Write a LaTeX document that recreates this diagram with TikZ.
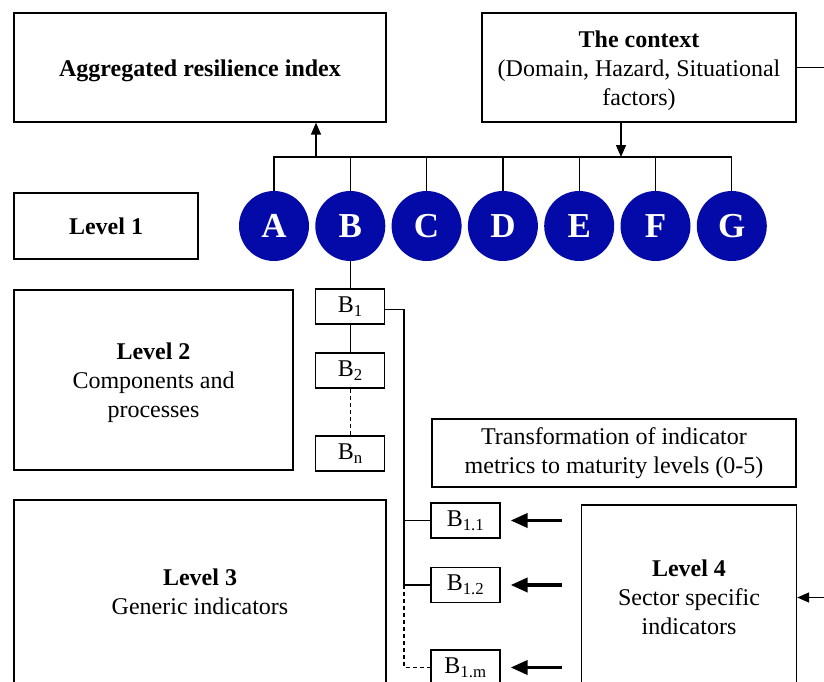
\documentclass[tikz,border=0pt]{standalone}
\usepackage{fontspec}
\setmainfont{Liberation Serif}
\usetikzlibrary{arrows.meta,calc}
\definecolor{discblue}{RGB}{4,10,168}
% text block set a little below the centre of its box
\newcommand\lowtext[1]{\raisebox{-3pt}[\height][\depth]{\begin{tabular}{@{}c@{}}#1\end{tabular}}}
\begin{document}
\begin{tikzpicture}[x=1pt,y=-1pt,
  box/.style={draw,line width=1.3pt,inner sep=0pt,align=center,
    font=\fontsize{24}{29}\selectfont},
  sub/.style={draw,line width=1.2pt,inner sep=0pt,minimum width=69,minimum height=35,
    font=\fontsize{24}{29}\selectfont},
  disc/.style={circle,fill=discblue,minimum size=70,inner sep=0pt,text=white,
    font=\fontsize{35}{35}\selectfont\bfseries},
  conn/.style={line width=1.35pt},
  arr/.style={conn,-{Triangle[length=12pt,width=10pt]}},
  fat/.style={line width=3.6pt,-{Triangle[length=17pt,width=14pt]}},
  dashline/.style={conn,dash pattern=on 4pt off 3pt}]
\useasboundingbox (0,0) rectangle (824,682);

% top row
\node[box,minimum width=372,minimum height=109] (agg) at (200,67.5)
  {\lowtext{\textbf{Aggregated resilience index}}};
\node[box,minimum width=314,minimum height=109] (ctx) at (639,67.5)
  {\lowtext{\textbf{The context}\\(Domain, Hazard, Situational\\factors)}};

% level boxes on the left
\node[box,minimum width=184,minimum height=66] (lvl1) at (106,226) {\textbf{Level 1}};
\node[box,minimum width=279,minimum height=180] (lvl2) at (153.5,380)
  {\lowtext{\textbf{Level 2}\\Components and\\processes}};
\node[box,minimum width=372,minimum height=184] (lvl3) at (200,592)
  {\textbf{Level 3}\\Generic indicators};
\node[box,minimum width=364,minimum height=68] (trans) at (614,453)
  {Transformation of indicator\\metrics to maturity levels (0-5)};
\node[box,minimum width=215,minimum height=185] (lvl4) at (689,597.5)
  {\textbf{Level 4}\\Sector specific\\indicators};

% level 1 discs
\foreach \n [count=\i from 0] in {A,B,C,D,E,F,G}
  \node[disc] (c\n) at (274+76.3*\i,226) {\n};

% level 2 and level 3 entries
\node[sub] (b1) at (350.3,306.5) {B\textsubscript{1}};
\node[sub] (b2) at (350.3,370.5) {B\textsubscript{2}};
\node[sub] (bn) at (350.3,453.5) {B\textsubscript{n}};
\node[sub] (b11) at (465.5,520.5) {B\textsubscript{1.1}};
\node[sub] (b12) at (465.5,585) {B\textsubscript{1.2}};
\node[sub] (b1m) at (465.5,667.5) {B\textsubscript{1.m}};

% bus joining the discs
\coordinate (bus) at (0,157);
\draw[conn] (cA.north) -- (cA.north |- bus) -- (cG.north |- bus) -- (cG.north);
\foreach \n in {B,C,D,E,F}
  \draw[conn] (c\n.north) -- (c\n.north |- bus);
\coordinate (aggin) at (316,157);
\draw[arr] (aggin) -- (aggin |- agg.south);
\coordinate (ctxout) at (621,0);
\draw[arr] (ctx.south -| ctxout) -- (bus -| ctxout);

% context feeds level 4
\coordinate (feed) at (860,0);
\draw[arr] (ctx.east) -- (ctx.east -| feed) -- (lvl4.east -| feed) -- (lvl4.east);

% B branch
\draw[conn] (cB.south) -- (b1.north);
\draw[conn] (b1.south) -- (b2.north);
\draw[dashline] (b2.south) -- (bn.north);
\coordinate (rail) at (404,0);
\draw[conn] ($(b1.east)+(0,3)$) -- ($(b1.east -| rail)+(0,3)$) -- (b12.west -| rail) -- (b12.west);
\draw[conn] (b11.west -| rail) -- (b11.west);
\draw[dashline] (b12.west -| rail) -- (b1m.west -| rail) -- (b1m.west);

% sector indicators feeding the generic ones
\coordinate (tail) at (562,0);
\foreach \b in {b11,b12,b1m}
  \draw[fat] (\b.east -| tail) -- ($(\b.east)+(10,0)$);
\end{tikzpicture}
\end{document}
